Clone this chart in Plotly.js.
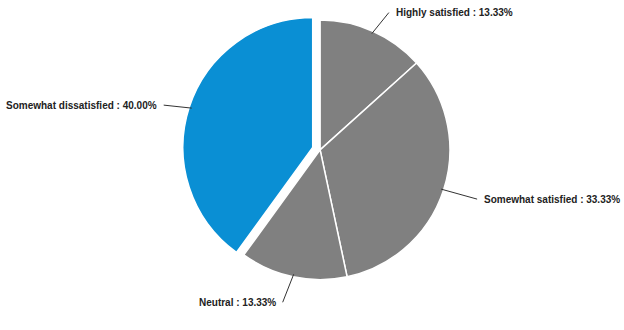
<!DOCTYPE html>
<html>
<head>
<meta charset="utf-8">
<script src="https://cdn.plot.ly/plotly-3.0.1.min.js"></script>
<style>html,body{margin:0;padding:0;background:#fff;}#chart{width:624px;height:330px;}</style>
</head>
<body>
<div id="chart"></div>
<script>
// ---- data ----
const categories = ['Highly satisfied', 'Somewhat satisfied', 'Neutral', 'Somewhat dissatisfied'];
const percents = [13.33, 33.33, 13.33, 40.00];

// ---- style ----
const sliceColors = ['#808080', '#808080', '#808080', '#0a8fd4'];
const pulls = [0, 0, 0, 0.06];
const labelOffsets = [[17, -21, 'left'], [36, 10, 'left'], [-11, 28, 'right'], [-28, -3, 'right']];

const W = 624, H = 330;
const dom = {x: [0.292, 0.734], y: [0.129, 0.963]};
const maxPull = Math.max(...pulls);
const cx = W * (dom.x[0] + dom.x[1]) / 2;
const cy = H * (1 - (dom.y[0] + dom.y[1]) / 2);
const r = Math.min(W * (dom.x[1] - dom.x[0]), H * (dom.y[1] - dom.y[0])) / 2 / (1 + maxPull);

const total = percents.reduce((a, b) => a + b, 0);
let cum = 0;
const annotations = percents.map((v, i) => {
  const mid = (cum + v / 2) / total * 2 * Math.PI;
  cum += v;
  const rr = pulls[i] * r + r * 0.98;
  const px = cx + rr * Math.sin(mid);
  const py = cy - rr * Math.cos(mid);
  const off = labelOffsets[i];
  return {
    xref: 'paper', yref: 'paper',
    x: px / W, y: 1 - py / H,
    ax: off[0], ay: off[1],
    xanchor: off[2], yanchor: 'middle',
    text: '<b>' + categories[i] + ' : ' + percents[i].toFixed(2) + '%</b>',
    showarrow: true, arrowhead: 0, arrowwidth: 1, arrowcolor: '#333333',
    font: {family: 'Liberation Sans, Arial, sans-serif', size: 10, color: '#222222'},
    borderpad: 6
  };
});

const trace = {
  type: 'pie',
  labels: categories,
  values: percents,
  sort: false,
  direction: 'clockwise',
  rotation: 0,
  pull: pulls,
  textinfo: 'none',
  hoverinfo: 'label+percent',
  marker: {colors: sliceColors, line: {color: '#ffffff', width: 1.5}},
  domain: dom,
  showlegend: false
};

Plotly.newPlot('chart', [trace], {
  width: W, height: H,
  margin: {l: 0, r: 0, t: 0, b: 0},
  paper_bgcolor: '#ffffff',
  showlegend: false,
  annotations: annotations
}, {displayModeBar: false, staticPlot: true});
</script>
</body>
</html>
